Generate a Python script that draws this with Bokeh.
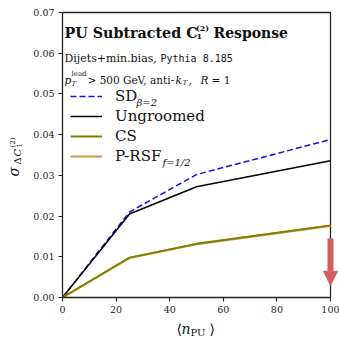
from bokeh.plotting import figure
from bokeh.layouts import row, column
from bokeh.models import (Range1d, FixedTicker, NumeralTickFormatter, Label, Legend,
                          LegendItem, Arrow, NormalHead)
from bokeh.embed import file_html
from bokeh.resources import INLINE

# ---- data ----
n_pu = [0, 25, 50, 100]
sd_beta2 = [0.0, 0.0210, 0.0302, 0.0388]
ungroomed = [0.0, 0.0205, 0.0272, 0.0336]
cs = [0.0, 0.0098, 0.0132, 0.0177]
prsf = [0.0, 0.0097, 0.0131, 0.0176]
x_ticks = [0, 20, 40, 60, 80, 100]
y_ticks = [0.00, 0.01, 0.02, 0.03, 0.04, 0.05, 0.06, 0.07]
arrow_x = 100
arrow_from = 0.0145
arrow_to = 0.0030

# ---- geometry (canvas pixels) ----
W, H = 339, 337
YL_W = 25            # strip for the y-axis title
XL_H = 17            # strip for the x-axis title
MAIN_W, MAIN_H = W - YL_W, H - XL_H
FRAME_L, FRAME_R, FRAME_T, FRAME_B = 62, 330, 12, 297   # data box in canvas px
BL = FRAME_L - YL_W
BB = MAIN_H - FRAME_B
SERIF = "DejaVu Serif"
INK = "#222222"

xmin, xmax = x_ticks[0], x_ticks[-1]
ymin, ymax = y_ticks[0], y_ticks[-1]
x_end = xmax + (W - FRAME_R) / (FRAME_R - FRAME_L) * (xmax - xmin)
y_end = ymax + FRAME_T / (FRAME_B - FRAME_T) * (ymax - ymin)

p = figure(width=MAIN_W, height=MAIN_H, output_backend="svg", toolbar_location=None,
           x_range=Range1d(xmin, x_end), y_range=Range1d(ymin, y_end),
           min_border_left=BL, min_border_right=0, min_border_top=0, min_border_bottom=BB)
p.xgrid.visible = False
p.ygrid.visible = False
p.outline_line_color = None

for ax in (p.xaxis[0], p.yaxis[0]):
    ax.axis_line_color = INK
    ax.axis_line_width = 1.3
    ax.major_tick_line_color = INK
    ax.major_tick_line_width = 1.1
    ax.major_tick_out = 4
    ax.major_tick_in = 0
    ax.minor_tick_line_color = None
    ax.major_label_text_font = SERIF
    ax.major_label_text_font_size = "9.5px"
    ax.major_label_text_color = INK
    ax.major_label_standoff = 4
p.xaxis.ticker = FixedTicker(ticks=x_ticks)
p.yaxis.ticker = FixedTicker(ticks=y_ticks)
p.xaxis.bounds = (xmin, xmax)
p.yaxis.bounds = (ymin, ymax)
p.yaxis.formatter = NumeralTickFormatter(format="0.00")

# top and right spines of the box
p.line([xmin, xmax, xmax], [ymax, ymax, ymin], line_color=INK, line_width=1.3)

r_sd = p.line(n_pu, sd_beta2, line_color="#1010e0", line_width=1.5, line_dash="6 3")
r_un = p.line(n_pu, ungroomed, line_color="#000000", line_width=1.5)
r_pr = p.line(n_pu, prsf, line_color="#c99a3a", line_width=2.2)
r_cs = p.line(n_pu, cs, line_color="#808000", line_width=1.8)

legend = Legend(items=[LegendItem(label="SD", renderers=[r_sd]),
                       LegendItem(label="Ungroomed", renderers=[r_un]),
                       LegendItem(label="CS", renderers=[r_cs]),
                       LegendItem(label="P-RSF", renderers=[r_pr])],
                location=(8, 131), padding=0, margin=0, spacing=0,
                glyph_width=32, glyph_height=20, label_height=20, label_standoff=13,
                label_text_font=SERIF, label_text_font_size="15px",
                label_text_color="#111111",
                border_line_color=None, background_fill_alpha=0)
p.add_layout(legend)

p.add_layout(Arrow(end=NormalHead(size=14, fill_color="#d45d5d", line_color="#d45d5d"),
                   x_start=arrow_x, y_start=arrow_from, x_end=arrow_x, y_end=arrow_to,
                   line_color="#d45d5d", line_width=6))


def X(px):
    return xmin + (px - FRAME_L) / (FRAME_R - FRAME_L) * (xmax - xmin)


def Y(py):
    return ymin + (FRAME_B - py) / (FRAME_B - FRAME_T) * (ymax - ymin)


def lab(fig, x, y, text, size, font=SERIF, style="normal", angle=0.0, color="#111111"):
    fig.add_layout(Label(x=x, y=y, text=text, text_font=font, text_font_size=size,
                         text_font_style=style, text_baseline="alphabetic",
                         text_align="left", angle=angle, text_color=color))


def mlab(px, py, *a, **k):
    lab(p, X(px), Y(py), *a, **k)


# title block
mlab(64, 32, "PU Subtracted C", "14.3px", style="bold")
mlab(195.5, 27, "(2)", "8px", style="bold")
mlab(196, 35.5, "1", "8px", style="bold")
mlab(213, 32, "Response", "14px", style="bold")
mlab(64, 58, "Dijets+min.bias,", "11px")
mlab(160, 58, "Pythia 8.185", "10px", font="DejaVu Sans Mono")
mlab(64, 79.5, "p", "10.5px", style="italic")
mlab(71, 73, "lead", "7px")
mlab(71, 83, "T", "7px", style="italic")
mlab(87, 79.5, "> 500 GeV, anti-", "10.5px")
mlab(175, 79.5, "k", "10.5px", style="italic")
mlab(182, 82.5, "T", "7px", style="italic")
mlab(188, 79.5, ",", "10.5px")
mlab(200, 79.5, "R", "10.5px", style="italic")
mlab(211, 79.5, "= 1", "10.5px")

# legend subscripts
mlab(136, 101.5, "β=2", "10px", style="italic")
mlab(162, 161.5, "f=1/2", "10px", style="italic")


def strip(w, h, xr, yr, **borders):
    f = figure(width=w, height=h, output_backend="svg", toolbar_location=None,
               x_range=Range1d(*xr), y_range=Range1d(*yr),
               x_axis_location=None, y_axis_location=None, **borders)
    f.xgrid.visible = False
    f.ygrid.visible = False
    f.outline_line_color = None
    return f


# x-axis title strip: frame aligned with the main frame, spans canvas x FRAME_L..W
fx = strip(MAIN_W, XL_H, (FRAME_L, W), (0, XL_H),
           min_border_left=BL, min_border_right=0, min_border_top=0, min_border_bottom=0)


def xl(px, py, *a, **k):
    lab(fx, px, H - py, *a, **k)


xl(176, 328.5, "⟨", "14px")
xl(181, 328.5, "n", "14px", style="italic")
xl(190, 331.5, "PU", "10px")
xl(209, 328.5, "⟩", "14px")

# y-axis title strip: frame spans canvas y 0..FRAME_B
fy = strip(YL_W, H, (0, YL_W), (0, FRAME_B),
           min_border_left=0, min_border_right=0, min_border_top=0, min_border_bottom=H - FRAME_B)
ang = 1.5708


def yl(px, py, *a, **k):
    lab(fy, px, FRAME_B - py, *a, angle=ang, **k)


yl(13.5, 176, "σ", "14px", style="italic")
yl(16.5, 164, "Δ", "10px")
yl(16.5, 156, "C", "10px", style="italic")
yl(18, 147, "1", "7px")
yl(12.5, 147, "(2)", "7px")

layout = row(fy, column(p, fx))
open("out.html", "w").write(file_html(layout, INLINE))
